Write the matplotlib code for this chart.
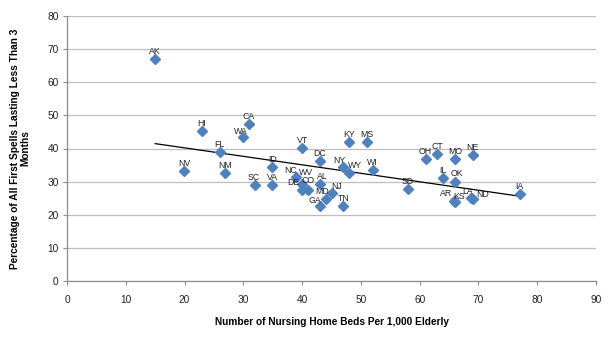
import matplotlib
matplotlib.use("Agg")
import matplotlib.pyplot as plt
import numpy as np

plt.rcParams['font.family'] = ['Liberation Sans', 'DejaVu Sans']

states = ["AK","HI","CA","WA","FL","NV","NM","SC","VA","ID","VT","NC","WV","DE","CO",
          "AL","DC","GA","MD","NJ","TN","KY","MS","NY","WY","WI","SD","OH","CT","MO",
          "NE","IL","OK","AR","KS","LA","ND","IA"]
beds = [15.0,22.9,30.9,29.9,26.0,19.9,26.9,32.0,34.9,34.9,40.0,38.9,40.0,40.0,41.0,
        43.0,43.0,43.0,44.0,45.0,47.0,48.0,51.0,47.0,48.0,52.0,58.0,61.0,63.0,66.0,
        69.0,64.0,66.0,65.8,66.0,68.8,69.0,77.0]
pct = [67.1,45.4,47.5,43.6,38.9,33.2,32.7,29.0,29.0,34.4,40.1,31.5,29.3,27.6,27.5,
       29.3,36.2,22.6,24.9,26.5,22.7,42.1,42.1,34.4,32.7,33.6,27.8,36.8,38.4,36.7,
       37.9,31.0,29.9,24.2,24.0,25.0,24.8,26.4]

x_ticks = list(range(0, 100, 10))
y_ticks = list(range(0, 90, 10))

# label offsets in pixels (dx, dy up)
default_off = (0, 7.5)
offsets = {
    "WA": (-2, 5), "NC": (-5, 6), "WV": (4, 11), "DE": (-9, 7), "CO": (0, 9),
    "AL": (3, 7), "GA": (-5, 6), "MD": (-3, 7), "NJ": (5, 7), "NY": (-4, 7),
    "WY": (6, 7), "AR": (-8, 7), "KS": (4, 5), "LA": (-4, 7), "ND": (10, 4),
    "SC": (-1.5, 7.5), "OK": (2, 8),
}

fig = plt.figure(figsize=(6.14, 3.38), dpi=100)
ax = fig.add_axes([67/614, 1-281/338, (596-67)/614, (281-16)/338])

ax.plot(beds, pct, linestyle='none', marker='D', ms=4.6, color='#4F81BD',
        markeredgecolor='#4F81BD', zorder=3)

# linear trend line
coef = np.polyfit(beds, pct, 1)
xs = np.array([min(beds), max(beds)])
ax.plot(xs, np.polyval(coef, xs), color='black', lw=0.9, zorder=2)

for s, xv, yv in zip(states, beds, pct):
    dx, dy = offsets.get(s, default_off)
    ax.annotate(s, (xv, yv), xytext=(dx, dy), textcoords='offset pixels',
                ha='center', va='center', fontsize=6.3, color='#222222', zorder=4)

ax.set_xlim(0, 90)
ax.set_ylim(0, 80)
ax.set_xticks(x_ticks)
ax.set_yticks(y_ticks)
ax.yaxis.grid(True, color='#BEBEBE', lw=0.9)
ax.set_axisbelow(True)
for sp in ['top', 'right']:
    ax.spines[sp].set_visible(False)
for sp in ['left', 'bottom']:
    ax.spines[sp].set_color('#8C8C8C')
    ax.spines[sp].set_linewidth(0.9)
ax.tick_params(axis='both', direction='out', length=3, width=0.8, color='#8C8C8C',
               labelsize=7.3, labelcolor='#222222')
ax.tick_params(axis='x', pad=7)
ax.tick_params(axis='y', pad=3)

ax.set_xlabel("Number of Nursing Home Beds Per 1,000 Elderly", fontsize=7.3,
              fontweight='bold', labelpad=9)
ax.set_ylabel("Percentage of All First Spells Lasting Less Than 3\nMonths", fontsize=7.3,
              fontweight='bold', labelpad=12, linespacing=1.1)

fig.savefig("out.png", dpi=100)
